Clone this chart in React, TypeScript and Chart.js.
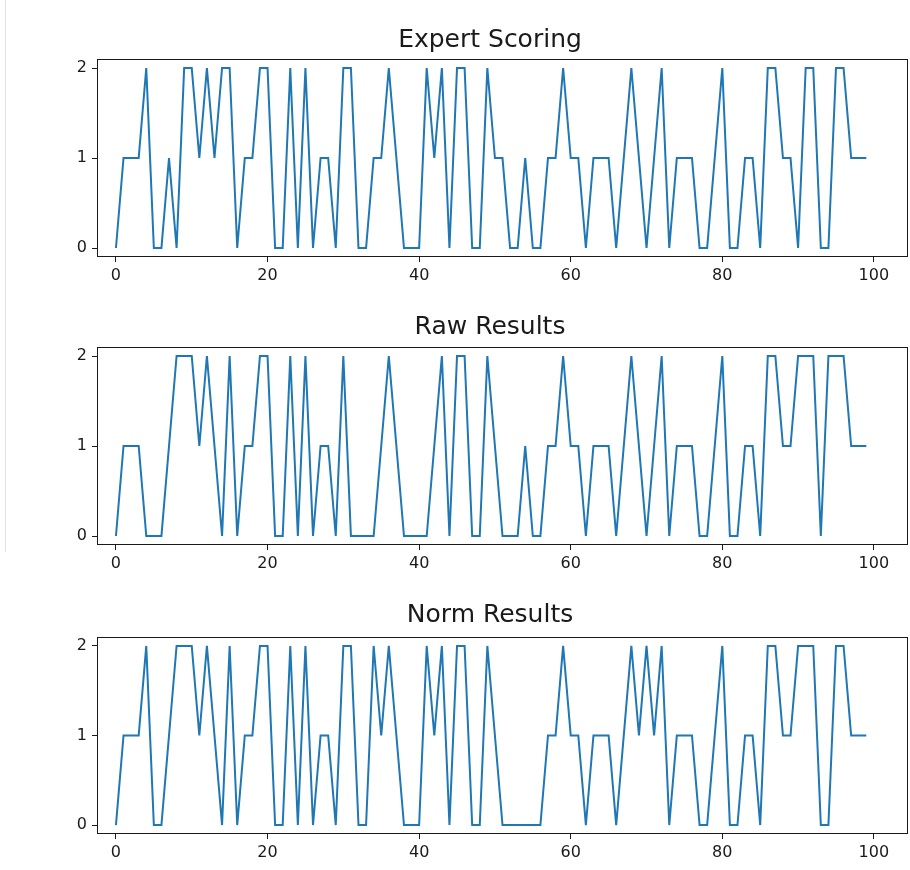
import { useEffect, useRef } from "react";
import { Chart, registerables } from "chart.js";

Chart.register(...registerables);

// Sample index along the x axis (0..99)
const sampleIndex: number[] = Array.from({ length: 100 }, (_, i) => i);

const expertScoring: number[] = [
  0, 1, 1, 1, 2, 0, 0, 1, 0, 2,
  2, 1, 2, 1, 2, 2, 0, 1, 1, 2,
  2, 0, 0, 2, 0, 2, 0, 1, 1, 0,
  2, 2, 0, 0, 1, 1, 2, 1, 0, 0,
  0, 2, 1, 2, 0, 2, 2, 0, 0, 2,
  1, 1, 0, 0, 1, 0, 0, 1, 1, 2,
  1, 1, 0, 1, 1, 1, 0, 1, 2, 1,
  0, 1, 2, 0, 1, 1, 1, 0, 0, 1,
  2, 0, 0, 1, 1, 0, 2, 2, 1, 1,
  0, 2, 2, 0, 0, 2, 2, 1, 1, 1,
];

const rawResults: number[] = [
  0, 1, 1, 1, 0, 0, 0, 1, 2, 2,
  2, 1, 2, 1, 0, 2, 0, 1, 1, 2,
  2, 0, 0, 2, 0, 2, 0, 1, 1, 0,
  2, 0, 0, 0, 0, 1, 2, 1, 0, 0,
  0, 0, 1, 2, 0, 2, 2, 0, 0, 2,
  1, 0, 0, 0, 1, 0, 0, 1, 1, 2,
  1, 1, 0, 1, 1, 1, 0, 1, 2, 1,
  0, 1, 2, 0, 1, 1, 1, 0, 0, 1,
  2, 0, 0, 1, 1, 0, 2, 2, 1, 1,
  2, 2, 2, 0, 2, 2, 2, 1, 1, 1,
];

const normResults: number[] = [
  0, 1, 1, 1, 2, 0, 0, 1, 2, 2,
  2, 1, 2, 1, 0, 2, 0, 1, 1, 2,
  2, 0, 0, 2, 0, 2, 0, 1, 1, 0,
  2, 2, 0, 0, 2, 1, 2, 1, 0, 0,
  0, 2, 1, 2, 0, 2, 2, 0, 0, 2,
  1, 0, 0, 0, 0, 0, 0, 1, 1, 2,
  1, 1, 0, 1, 1, 1, 0, 1, 2, 1,
  2, 1, 2, 0, 1, 1, 1, 0, 0, 1,
  2, 0, 0, 1, 1, 0, 2, 2, 1, 1,
  2, 2, 2, 0, 0, 2, 2, 1, 1, 1,
];

const xTickValues: number[] = [0, 20, 40, 60, 80, 100];
const yTickValues: number[] = [0, 1, 2];

const FONT = "'DejaVu Sans', Verdana, sans-serif";
const LINE_BLUE = "#1f77b4";
const INK = "#1a1a1a";

type PanelProps = {
  title: string;
  values: number[];
  top: number;
  height: number;
  plotTop: number;
  titleY: number;
  axisHeight: number;
};

// Draws the panel title and the four-sided axes frame
const panelDecor = {
  id: "panelDecor",
  afterDraw(chart: any, _args: any, opts: any) {
    const { ctx, chartArea } = chart;
    ctx.save();
    ctx.strokeStyle = INK;
    ctx.lineWidth = 1;
    const l = Math.round(chartArea.left) + 0.5;
    const t = Math.round(chartArea.top) + 0.5;
    const r = Math.round(chartArea.right) - 0.5;
    const b = Math.round(chartArea.bottom) - 0.5;
    ctx.strokeRect(l, t, r - l, b - t);
    ctx.fillStyle = INK;
    ctx.font = `25px ${FONT}`;
    ctx.textAlign = "center";
    ctx.textBaseline = "middle";
    ctx.fillText(opts.text, opts.x, opts.y);
    ctx.restore();
  },
};

function Panel({ title, values, top, height, plotTop, titleY, axisHeight }: PanelProps) {
  const ref = useRef<HTMLCanvasElement | null>(null);

  useEffect(() => {
    if (!ref.current) return;
    const tickFont = { family: FONT, size: 16 };
    const chart = new Chart(ref.current, {
      type: "line",
      data: {
        datasets: [
          {
            data: values.map((v, i) => ({ x: sampleIndex[i], y: v })),
            borderColor: LINE_BLUE,
            borderWidth: 2,
            pointRadius: 0,
            tension: 0,
            fill: false,
          },
        ],
      },
      options: {
        responsive: false,
        animation: false,
        layout: { padding: { left: 0, right: 2, top: plotTop, bottom: 0 } },
        plugins: {
          legend: { display: false },
          tooltip: { enabled: false },
          panelDecor: { text: title, x: 490, y: titleY },
        } as any,
        scales: {
          x: {
            type: "linear",
            min: -2.5,
            max: 104.5,
            afterBuildTicks: (axis: any) => {
              axis.ticks = xTickValues.map((value) => ({ value }));
            },
            afterFit: (axis: any) => {
              axis.height = axisHeight;
            },
            grid: { drawOnChartArea: false, drawTicks: true, tickLength: 5, color: INK, tickWidth: 1 },
            border: { display: false },
            ticks: { font: tickFont, color: INK, padding: 4, maxRotation: 0, autoSkip: false },
          },
          y: {
            min: -0.1,
            max: 2.1,
            afterBuildTicks: (axis: any) => {
              axis.ticks = yTickValues.map((value) => ({ value }));
            },
            afterFit: (axis: any) => {
              axis.width = 97;
            },
            grid: { drawOnChartArea: false, drawTicks: true, tickLength: 5, color: INK, tickWidth: 1 },
            border: { display: false },
            ticks: { font: tickFont, color: INK, padding: 5, autoSkip: false },
          },
        },
      },
      plugins: [panelDecor],
    });
    return () => chart.destroy();
  }, [title, values, plotTop, titleY, axisHeight]);

  return (
    <canvas
      ref={ref}
      width={910}
      height={height}
      style={{ position: "absolute", left: 0, top, width: 910, height, display: "block" }}
    />
  );
}

export default function App() {
  return (
    <div
      style={{
        position: "absolute",
        left: 0,
        top: 0,
        width: 910,
        height: 870,
        background: "#fff",
        overflow: "hidden",
      }}
    >
      <div
        style={{ position: "absolute", left: 5, top: 0, width: 1, height: 552, background: "#e4e4e4" }}
      />
      <Panel title="Expert Scoring" values={expertScoring} top={0} height={290} plotTop={59} titleY={40} axisHeight={33} />
      <Panel title="Raw Results" values={rawResults} top={290} height={290} plotTop={57} titleY={37} axisHeight={35} />
      <Panel title="Norm Results" values={normResults} top={580} height={290} plotTop={57} titleY={35} axisHeight={36} />
    </div>
  );
}
